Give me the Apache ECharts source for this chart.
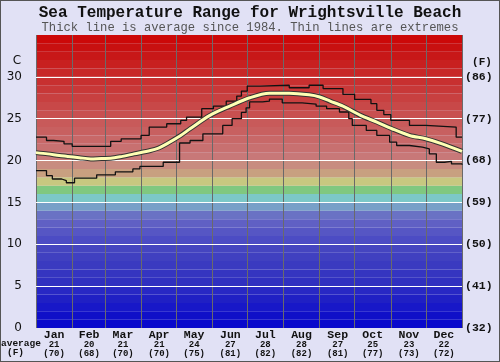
<!DOCTYPE html>
<html><head><meta charset="utf-8">
<script src="https://cdn.jsdelivr.net/npm/echarts@6/dist/echarts.min.js"></script>
<style>
html,body{margin:0;padding:0;background:#e1e1f5;}
#c{position:absolute;left:0;top:0;width:500px;height:362px;}
#b{position:absolute;left:0;top:0;width:500px;height:362px;box-sizing:border-box;border:1px solid #555;pointer-events:none;}
</style></head>
<body><div id="c"></div><div id="b"></div>
<script>
// ---- data ----
const months = ['Jan','Feb','Mar','Apr','May','Jun','Jul','Aug','Sep','Oct','Nov','Dec'];
const monthDays = [31,28,31,30,31,30,31,31,30,31,30,31];
const avgC = ['21','20','21','21','24','27','28','28','27','25','23','22'];
const avgF = ['(70)','(68)','(70)','(70)','(75)','(81)','(82)','(82)','(81)','(77)','(73)','(72)'];
const cTickLabels = ['0','5','10','15','20','25','30'];
const fTickLabels = ['(32)','(41)','(50)','(59)','(68)','(77)','(86)'];

// average (day of year, deg C)
const avgDay  = [0,10,20,27,37,47,56,64,74,84,98,105,112,124,132,149,166,183,200,217,234,243,252,263,278,292,305,320,334,348,365];
const avgTemp = [20.95,20.8,20.6,20.5,20.35,20.2,20.25,20.27,20.5,20.8,21.2,21.5,22.0,23.0,23.8,25.4,26.5,27.5,28.05,28.05,27.86,27.6,27.1,26.5,25.4,24.6,23.8,23.0,22.6,22.0,21.1];
// maximum extremes (step)
const maxDay  = [0,9,15,24,31,64,73,90,97,112,124,129,142,152,163,172,176,181,192,217,234,246,263,273,287,292,298,304,320,334,360,365];
const maxTemp = [22.8,22.4,22.3,22.0,21.7,22.3,22.6,23.0,24.0,24.4,24.8,25.2,26.2,26.5,27.1,27.7,28.3,28.9,29.0,28.7,29.0,28.6,27.9,27.3,26.8,26.0,25.5,24.8,24.2,24.0,22.8,22.8];
// minimum extremes (step)
const minDay  = [0,9,14,22,26,33,52,68,83,89,109,123,132,143,160,168,176,180,183,194,200,211,228,240,249,260,268,271,283,292,303,309,320,331,337,343,350,356,365];
const minTemp = [18.8,18.2,17.8,17.6,17.35,17.9,18.3,18.65,19.0,19.3,19.8,22.1,22.4,23.2,24.2,25.0,25.75,26.3,27.0,27.1,27.35,26.9,26.75,26.5,26.2,25.8,25.0,24.2,23.6,23.0,22.2,21.8,21.6,21.4,20.8,19.8,19.9,19.6,19.5];

// ---- styles ----
const bandColors = ['#0a0acc','#1010c8','#1818c8','#2020c4','#2828c4','#3030c0','#3535c0','#3a3ac0','#4040c0','#4545c0',
  '#4c4cc4','#5656c4','#6060c4','#6a72c4','#78a0c8','#7cc8c8','#80c880','#c8c880','#c8a080','#c88c80',
  '#c87878','#c87070','#c86868','#c86060','#c85a5a','#c85050','#c84848','#c84040','#c83838','#c83030',
  '#c82828','#c82020','#c81818','#c81010','#cc0808'];

const dayCats = [];
for (let i = 0; i < 365; i++) dayCats.push(String(i));
const labelMap = new Map();
const boundSet = new Set();
let acc = 0;
months.forEach((m, i) => { boundSet.add(acc); labelMap.set(acc + Math.floor(monthDays[i] / 2), i); acc += monthDays[i]; });

const pairs = (xs, ys) => xs.map((x, i) => [x, ys[i]]);
const mono = 'Liberation Mono';

const chart = echarts.init(document.getElementById('c'), null, {renderer: 'canvas'});
chart.setOption({
  animation: false,
  backgroundColor: '#e1e1f5',
  grid: {left: 36, right: 38, top: 35, bottom: 34, containLabel: false},
  xAxis: [
    {type: 'value', min: 0, max: 365, show: false},
    {type: 'category', data: dayCats, boundaryGap: true, position: 'bottom', z: 1,
      axisLine: {show: false}, axisTick: {show: false},
      axisLabel: {interval: (idx) => labelMap.has(idx), margin: 2,
        formatter: (v, idx) => { const i = labelMap.get(Number(v)); return i == null ? '' : '{m|' + months[i] + '}\n{n|' + avgC[i] + '}\n{n|' + avgF[i] + '}'; },
        rich: {
          m: {fontFamily: mono, fontWeight: 'bold', fontSize: 11.5, lineHeight: 10, color: '#111', align: 'center'},
          n: {fontFamily: mono, fontWeight: 'bold', fontSize: 9, lineHeight: 9, color: '#111', align: 'center'}
        }},
      splitLine: {show: true, interval: (idx) => boundSet.has(idx), lineStyle: {color: '#6a6a6a', width: 1}}
    }
  ],
  yAxis: [
    {type: 'value', min: 0, max: 35, interval: 1, z: 0, position: 'left',
      axisLine: {show: false}, axisTick: {show: false}, axisLabel: {show: false}, splitLine: {show: false},
      splitArea: {show: true, areaStyle: {color: bandColors}}},
    {type: 'value', min: 0, max: 35, interval: 5, z: 2, position: 'left',
      axisLine: {show: false}, axisTick: {show: false},
      axisLabel: {margin: 14, color: '#111', fontFamily: 'DejaVu Sans', fontSize: 12,
        formatter: (v) => cTickLabels[v / 5] || ''},
      splitLine: {show: true, showMinLine: false, showMaxLine: false, lineStyle: {color: '#ffffff', width: 1.2}}},
    {type: 'value', min: 0, max: 35, interval: 5, z: 2, position: 'right',
      axisLine: {show: false}, axisTick: {show: false}, splitLine: {show: false},
      axisLabel: {margin: 3, color: '#111', fontFamily: mono, fontWeight: 'bold', fontSize: 11.5,
        formatter: (v) => fTickLabels[v / 5] || ''}}
  ],
  graphic: [
    {type: 'text', left: 'center', top: 5, style: {text: 'Sea Temperature Range for Wrightsville Beach', font: 'bold 16px "Liberation Mono"', fill: '#111'}},
    {type: 'text', x: 250, y: 28, style: {text: 'Thick line is average since 1984. Thin lines are extremes', font: '12.2px "Liberation Mono"', fill: '#555', align: 'center', verticalAlign: 'middle'}},
    {type: 'text', x: 17, y: 61, style: {text: 'C', font: '12px "DejaVu Sans"', fill: '#111', align: 'center', verticalAlign: 'middle'}},
    {type: 'text', x: 482, y: 62, style: {text: '(F)', font: 'bold 11px "Liberation Mono"', fill: '#111', align: 'center', verticalAlign: 'middle'}},
    {type: 'text', x: 1, y: 344, style: {text: 'average', font: 'bold 9.5px "Liberation Mono"', fill: '#111', align: 'left', verticalAlign: 'middle'}},
    {type: 'text', x: 15.5, y: 353, style: {text: '(F)', font: 'bold 9.5px "Liberation Mono"', fill: '#111', align: 'center', verticalAlign: 'middle'}}
  ],
  series: [
    {type: 'line', name: 'max', xAxisIndex: 0, yAxisIndex: 1, z: 5, step: 'end', showSymbol: false, data: pairs(maxDay, maxTemp), lineStyle: {color: '#111', width: 1.3}},
    {type: 'line', name: 'min', xAxisIndex: 0, yAxisIndex: 1, z: 5, step: 'end', showSymbol: false, data: pairs(minDay, minTemp), lineStyle: {color: '#111', width: 1.3}},
    {type: 'line', name: 'avgOutline', xAxisIndex: 0, yAxisIndex: 1, z: 6, smooth: 0.3, showSymbol: false, data: pairs(avgDay, avgTemp), lineStyle: {color: '#333', width: 5}},
    {type: 'line', name: 'avg', xAxisIndex: 0, yAxisIndex: 1, z: 7, smooth: 0.3, showSymbol: false, data: pairs(avgDay, avgTemp), lineStyle: {color: '#ffffb4', width: 3}}
  ]
});
</script>
</body></html>
